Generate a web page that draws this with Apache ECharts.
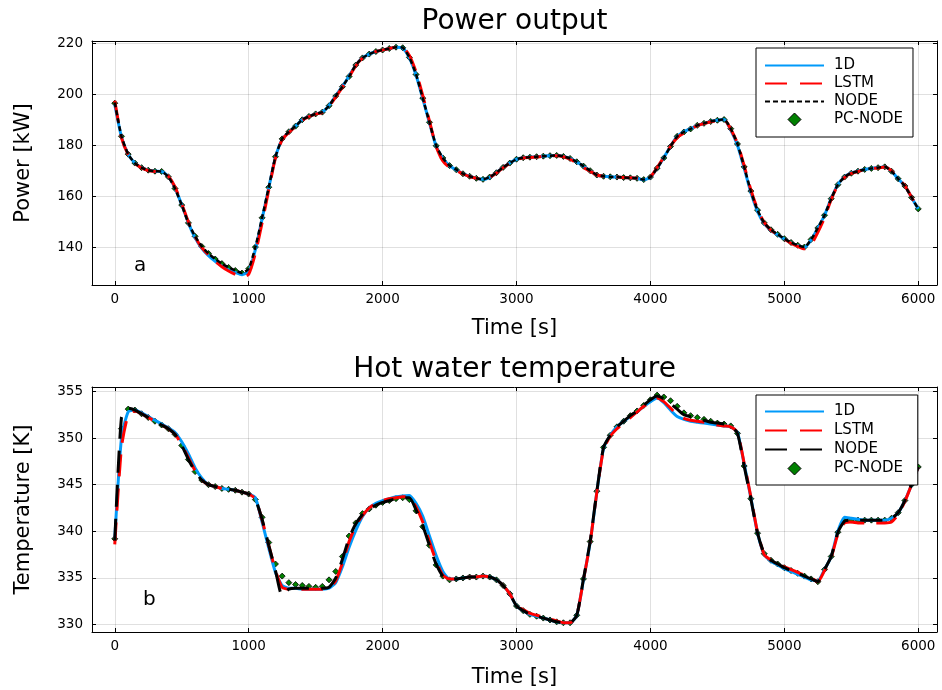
<!DOCTYPE html>
<html><head><meta charset="utf-8">
<script src="https://cdn.jsdelivr.net/npm/echarts@6/dist/echarts.min.js"></script>
<style>html,body{margin:0;padding:0;background:#fff}#c{width:942px;height:690px}</style>
</head><body><div id="c"></div>
<script>
const timeS = [0,50,100,150,200,250,300,350,400,450,500,550,600,650,700,750,800,850,900,950,
1000,1050,1100,1150,1200,1250,1300,1350,1400,1450,1500,1550,1600,1650,1700,1750,1800,1850,1900,1950,
2000,2050,2100,2150,2200,2250,2300,2350,2400,2450,2500,2550,2600,2650,2700,2750,2800,2850,2900,2950,
3000,3050,3100,3150,3200,3250,3300,3350,3400,3450,3500,3550,3600,3650,3700,3750,3800,3850,3900,3950,
4000,4050,4100,4150,4200,4250,4300,4350,4400,4450,4500,4550,4600,4650,4700,4750,4800,4850,4900,4950,
5000,5050,5100,5150,5200,5250,5300,5350,5400,5450,5500,5550,5600,5650,5700,5750,5800,5850,5900,5950,6000];

// ---- Power output [kW] ----
const d1P = [196.0,183.3,176.4,173.0,171.2,170.2,169.8,169.7,167.7,163.2,
156.6,149.4,143.6,139.5,136.6,134.4,132.6,131.1,130.0,129.1,
130.5,139.0,151.0,163.3,175.3,182.3,185.2,187.5,190.0,191.3,
192.3,193.0,195.6,199.4,203.1,207.2,211.5,214.3,215.8,216.8,
217.4,218.0,218.5,218.2,214.3,207.5,198.3,188.8,179.6,174.8,
171.9,170.3,168.8,167.8,167.0,166.6,167.4,169.2,171.3,173.0,
174.5,175.1,175.3,175.5,175.7,175.9,176.0,175.6,174.8,173.4,
171.7,169.9,168.3,167.8,167.6,167.5,167.3,167.2,167.0,166.4,
167.4,171.0,175.1,179.6,183.5,185.3,186.5,187.8,188.6,189.3,
189.8,190.1,186.0,180.0,171.0,161.5,154.0,149.2,146.6,144.8,
143.2,141.7,140.6,139.8,142.8,147.4,152.5,159.1,164.6,167.6,
169.1,169.9,170.5,170.9,171.2,171.5,169.8,166.8,164.0,159.5,
155.0];
const lstmP = [197.5,183.0,176.3,172.9,171.1,170.1,169.7,169.6,167.8,163.6,
157.0,149.8,144.0,139.8,136.9,134.4,132.3,130.6,129.3,128.3,
129.3,137.5,149.5,162.5,175.0,182.2,185.0,187.3,189.8,191.2,
192.2,192.9,195.3,199.0,202.8,206.8,211.3,214.2,215.8,216.8,
217.4,218.0,218.5,218.4,215.3,208.8,199.5,189.5,179.5,173.8,
171.3,170.1,168.7,167.7,167.0,166.6,167.4,169.1,171.2,172.9,
174.3,175.0,175.2,175.4,175.6,175.8,175.9,175.5,174.5,173.0,
171.2,169.8,168.3,167.8,167.6,167.5,167.3,167.2,167.0,166.5,
167.6,171.2,175.3,179.6,183.0,184.8,186.3,187.7,188.5,189.2,
189.7,190.0,186.3,180.8,172.0,162.5,154.8,149.6,146.7,144.9,
143.1,141.5,140.3,139.3,141.0,145.8,151.5,158.7,164.3,167.4,
168.9,169.7,170.4,170.8,171.1,171.4,169.9,167.0,164.1,159.6,
155.0];
const nodeP = [196.8,183.5,176.5,173.0,171.2,170.2,169.8,169.7,167.6,163.0,
156.5,149.5,144.2,140.2,137.5,135.3,133.5,132.0,130.8,129.8,
131.5,140.0,151.5,163.5,175.5,182.5,185.3,187.5,190.0,191.3,
192.3,193.0,195.5,199.3,203.0,207.0,211.5,214.3,215.8,216.8,
217.4,218.0,218.5,218.3,214.5,207.8,198.5,189.0,179.8,175.0,
172.0,170.4,168.8,167.8,167.0,166.6,167.5,169.2,171.3,173.0,
174.5,175.1,175.3,175.5,175.7,175.9,176.0,175.6,174.8,173.5,
171.8,170.0,168.3,167.8,167.6,167.5,167.3,167.2,167.0,166.5,
167.5,171.0,175.0,179.5,183.5,185.2,186.4,187.8,188.6,189.3,
189.8,190.1,186.5,180.5,171.5,162.0,154.5,149.5,146.8,145.0,
143.3,141.8,140.7,140.0,143.0,147.5,152.5,159.0,164.5,167.5,
169.0,169.8,170.5,170.9,171.2,171.5,169.8,166.8,164.0,159.5,
155.0];
const pcnodeP = [196.5,183.5,176.5,173.0,171.2,170.2,169.8,169.7,167.6,163.0,
156.5,149.5,144.2,140.2,137.5,135.3,133.5,132.0,130.8,129.8,
131.5,140.0,151.5,163.5,175.5,182.5,185.3,187.5,190.0,191.3,
192.3,193.0,195.5,199.3,203.0,207.0,211.5,214.3,215.8,216.8,
217.4,218.0,218.5,218.3,214.5,207.8,198.5,189.0,179.8,175.0,
172.0,170.4,168.8,167.8,167.0,166.6,167.5,169.2,171.3,173.0,
174.5,175.1,175.3,175.5,175.7,175.9,176.0,175.6,174.8,173.5,
171.8,170.0,168.3,167.8,167.6,167.5,167.3,167.2,167.0,166.5,
167.5,171.0,175.0,179.5,183.5,185.2,186.4,187.8,188.6,189.3,
189.8,190.1,186.5,180.5,171.5,162.0,154.5,149.5,146.8,145.0,
143.3,141.8,140.7,140.0,143.0,147.5,152.5,159.0,164.5,167.5,
169.0,169.8,170.5,170.9,171.2,171.5,169.8,166.8,164.0,159.5,
155.0];

// ---- Hot water temperature [K] ----
const d1T = [339.2,350.0,352.8,353.0,352.7,352.3,351.9,351.5,351.1,350.6,
349.6,348.3,346.8,345.7,345.0,344.8,344.6,344.5,344.4,344.2,
344.0,343.6,341.0,338.2,335.6,334.2,333.9,333.9,333.8,333.8,
333.8,333.8,333.9,334.5,336.2,338.3,340.1,341.6,342.5,343.0,
343.3,343.5,343.7,343.8,343.85,343.0,341.6,339.5,337.4,335.7,
334.9,334.9,335.0,335.1,335.1,335.2,335.1,334.8,334.2,333.3,
332.0,331.5,331.1,330.9,330.7,330.5,330.3,330.2,330.2,331.0,
334.8,338.8,344.2,348.9,350.3,351.2,351.8,352.3,352.8,353.4,
353.9,354.3,353.8,353.0,352.3,352.0,351.8,351.7,351.6,351.5,
351.4,351.3,351.2,350.6,347.2,343.6,339.8,337.5,336.8,336.4,
336.0,335.7,335.4,335.1,334.8,334.7,335.9,337.3,340.0,341.5,
341.4,341.3,341.2,341.2,341.2,341.2,341.4,342.0,343.3,345.0,
346.9];
const lstmT = [338.6,349.0,352.5,352.9,352.6,352.2,351.8,351.4,351.0,350.4,
349.3,347.9,346.5,345.5,345.0,344.8,344.6,344.5,344.4,344.2,
344.0,343.5,341.2,338.5,335.8,334.0,333.8,333.8,333.8,333.8,
333.8,333.8,333.9,334.7,336.6,338.9,340.6,341.7,342.5,343.0,
343.3,343.5,343.6,343.7,343.7,342.6,341.0,338.9,336.8,335.3,
334.9,334.9,335.0,335.1,335.1,335.2,335.1,334.8,334.2,333.3,
332.0,331.6,331.2,331.0,330.8,330.6,330.4,330.2,330.2,331.0,
334.8,338.8,344.2,348.8,350.2,351.0,351.6,352.2,352.8,353.4,
353.9,354.3,353.9,353.2,352.5,352.1,351.9,351.8,351.7,351.6,
351.4,351.3,351.2,350.6,347.3,343.7,339.9,337.5,336.9,336.5,
336.2,335.9,335.6,335.3,335.0,334.6,335.8,337.2,339.7,340.9,
341.0,340.9,340.9,340.9,340.9,340.9,341.0,341.8,343.2,345.0,
346.9];
const nodeT = [339.0,352.2,353.2,353.0,352.6,352.2,351.8,351.4,351.0,350.4,
349.2,347.7,346.4,345.5,345.0,344.8,344.6,344.5,344.4,344.2,
344.0,343.4,341.3,338.5,335.8,333.1,333.8,333.9,333.9,333.9,
333.9,333.9,334.0,335.0,337.0,339.3,340.8,341.8,342.4,342.8,
343.1,343.3,343.5,343.6,343.6,342.3,340.6,338.5,336.5,335.2,
334.8,334.9,335.0,335.1,335.1,335.2,335.1,334.8,334.2,333.3,
332.0,331.5,331.1,330.9,330.7,330.5,330.3,330.2,330.2,331.0,
334.9,338.9,344.3,349.0,350.3,351.2,351.8,352.4,352.9,353.5,
354.1,354.5,354.2,353.7,353.1,352.5,352.3,352.1,351.9,351.7,
351.6,351.5,351.3,350.5,347.0,343.5,339.8,337.6,336.9,336.5,
336.1,335.8,335.5,335.2,334.9,334.6,335.9,337.3,339.9,341.1,
341.2,341.2,341.2,341.2,341.2,341.2,341.4,342.0,343.3,345.0,
346.9];
const pcnodeT = [339.2,351.0,353.1,353.0,352.6,352.2,351.8,351.4,351.0,350.4,
349.2,347.7,346.4,345.5,345.0,344.8,344.6,344.5,344.4,344.2,
344.0,343.4,341.5,338.8,336.5,335.2,334.5,334.3,334.2,334.1,
334.0,334.1,334.8,335.7,337.3,339.5,340.9,341.9,342.4,342.8,
343.1,343.3,343.5,343.6,343.4,342.2,340.5,338.5,336.4,335.2,
334.8,334.9,335.0,335.1,335.1,335.2,335.1,334.8,334.2,333.3,
332.0,331.5,331.1,330.9,330.7,330.5,330.3,330.2,330.2,331.0,
334.9,338.9,344.3,349.0,350.3,351.2,351.8,352.4,352.9,353.5,
354.1,354.6,354.4,354.0,353.4,352.7,352.4,352.2,352.0,351.8,
351.6,351.5,351.3,350.5,347.0,343.5,339.8,337.6,336.9,336.5,
336.1,335.8,335.5,335.2,334.9,334.6,335.9,337.3,339.9,341.1,
341.2,341.2,341.2,341.2,341.2,341.2,341.4,342.0,343.3,345.0,
346.9];

const xTicks = [0,1000,2000,3000,4000,5000,6000];
const yTicksP = [140,160,180,200,220];
const yTicksT = [330,335,340,345,350,355];
const seriesNames = ['1D','LSTM','NODE','PC-NODE'];

const FONT = 'DejaVu Sans';
const chart = echarts.init(document.getElementById('c'), null, {renderer:'canvas'});
function pairs(arr){ return timeS.map((t,i)=>[t,arr[i]]); }

function axis(gridIndex, position, min, max, ticks, opts) {
  const main = opts.main;
  return Object.assign({
    type:'value', gridIndex, position, min, max,
    axisLine:{show:true, onZero:false, lineStyle:{color:'#000', width:1}},
    axisTick:{show:true, inside:true, length:4, customValues:ticks, lineStyle:{color:'#000', width:1}},
    axisLabel:{show:main, customValues:ticks, color:'#000', fontSize:13.5, fontFamily:FONT, margin:opts.margin||8,
      formatter:function(v){ return String(v); }},
    splitLine:{show:main, lineStyle:{color:'rgba(0,0,0,0.12)', width:1}}
  }, opts.extra||{});
}
const nameStyle = {fontSize:21, fontFamily:FONT, color:'#000'};
const xMin = -170, xMax = 6140;

const xAxes = [
  axis(0,'bottom',xMin,xMax,xTicks,{main:true, margin:7, extra:{name:'Time [s]', nameLocation:'middle', nameGap:33, nameTextStyle:nameStyle}}),
  axis(0,'top',xMin,xMax,xTicks,{main:false}),
  axis(1,'bottom',xMin,xMax,xTicks,{main:true, margin:7, extra:{name:'Time [s]', nameLocation:'middle', nameGap:35, nameTextStyle:nameStyle}}),
  axis(1,'top',xMin,xMax,xTicks,{main:false})
];
const yAxes = [
  axis(0,'left',125.1,220.94,yTicksP,{main:true, margin:9, extra:{name:'Power [kW]', nameLocation:'middle', nameGap:58, nameTextStyle:nameStyle}}),
  axis(0,'right',125.1,220.94,yTicksP,{main:false}),
  axis(1,'left',329.21,355.47,yTicksT,{main:true, margin:9, extra:{name:'Temperature [K]', nameLocation:'middle', nameGap:58, nameTextStyle:nameStyle}}),
  axis(1,'right',329.21,355.47,yTicksT,{main:false})
];

function lineSeries(name, xi, yi, arr, color, width, type) {
  return {type:'line', name, xAxisIndex:xi, yAxisIndex:yi, data:pairs(arr), symbol:'none', smooth:0.2,
    lineStyle:{color, width, type}, itemStyle:{color}, animation:false};
}
function markerSeries(name, xi, yi, arr) {
  return {type:'scatter', name, xAxisIndex:xi, yAxisIndex:yi, data:pairs(arr), symbol:'diamond', symbolSize:6,
    itemStyle:{color:'#008000', borderColor:'#000', borderWidth:0.8, opacity:1}, animation:false};
}
const sp = ' ';
const series = [
  lineSeries('1D',0,0,d1P,'#009AFA',3,'solid'),
  lineSeries('LSTM',0,0,lstmP,'#FF0000',3,[22,12]),
  lineSeries('NODE',0,0,nodeP,'#000000',2.5,[5,3]),
  markerSeries('PC-NODE',0,0,pcnodeP),
  lineSeries('1D'+sp,2,2,d1T,'#009AFA',3,'solid'),
  lineSeries('LSTM'+sp,2,2,lstmT,'#FF0000',3,[22,12]),
  lineSeries('NODE'+sp,2,2,nodeT,'#000000',3,[22,12]),
  markerSeries('PC-NODE'+sp,2,2,pcnodeT)
];
const hidden = {color:'rgba(0,0,0,0)', borderColor:'rgba(0,0,0,0)', borderWidth:0, opacity:0};
// diamond icon whose bounding box spans the full legend item, so it is not stretched
const diamondIcon = 'path://M0 0M59 13M29.5 0L36 6.5L29.5 13L23 6.5Z';
function legend(top, gap, pad, suffix, nodeDash) {
  return {orient:'vertical', left:756, top, padding:pad, itemWidth:59, itemHeight:13, itemGap:gap,
    backgroundColor:'#fff', borderColor:'#000', borderWidth:1, borderRadius:0,
    textStyle:{fontSize:15, fontFamily:FONT, color:'#000', padding:[0,0,0,5]},
    data:[
      {name:seriesNames[0]+suffix, itemStyle:hidden},
      {name:seriesNames[1]+suffix, itemStyle:hidden, lineStyle:{type:[22,13]}},
      {name:seriesNames[2]+suffix, itemStyle:hidden, lineStyle:{type:nodeDash}},
      {name:seriesNames[3]+suffix, icon:diamondIcon, itemStyle:{color:'#008000', borderColor:'#000', borderWidth:1}}
    ]};
}
const option = {
  backgroundColor:'#fff',
  animation:false,
  title:[
    {text:'Power output', left:514.5, top:8, textAlign:'center', padding:0, textStyle:{fontSize:28, fontWeight:'normal', fontFamily:FONT, color:'#000'}},
    {text:'Hot water temperature', left:514.5, top:356, textAlign:'center', padding:0, textStyle:{fontSize:28, fontWeight:'normal', fontFamily:FONT, color:'#000'}}
  ],
  grid:[
    {left:92, top:41, width:845, height:244, outerBoundsMode:'none'},
    {left:92, top:387, width:845, height:245, outerBoundsMode:'none'}
  ],
  legend:[
    legend(48, 3, [10,10,10,8], '', [5,3]),
    legend(395, 4, [9,10,9,8], sp, [22,13])
  ],
  xAxis:xAxes, yAxis:yAxes, series,
  graphic:[
    {type:'text', left:134, top:256, style:{text:'a', font:'20px "DejaVu Sans"', fill:'#000'}},
    {type:'text', left:143, top:590, style:{text:'b', font:'20px "DejaVu Sans"', fill:'#000'}}
  ]
};
chart.setOption(option);
</script></body></html>
